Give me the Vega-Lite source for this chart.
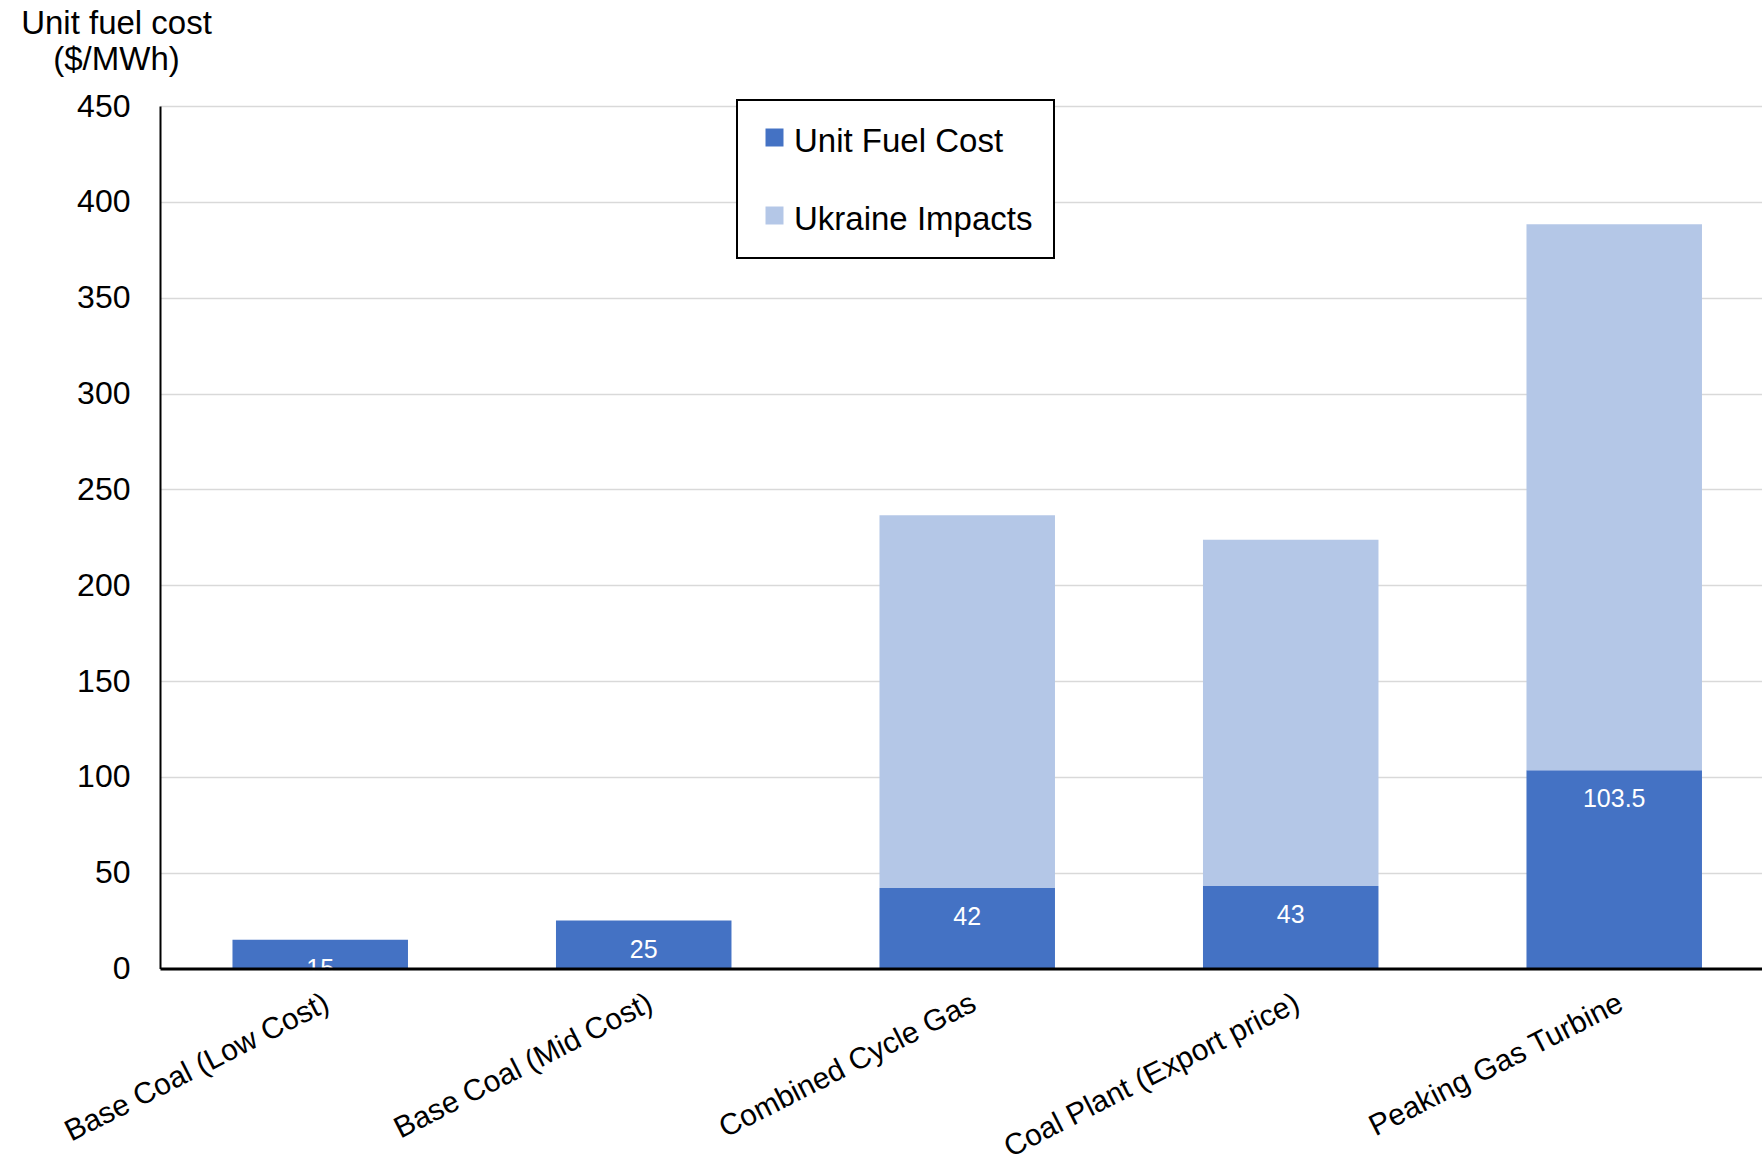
{
  "$schema": "https://vega.github.io/schema/vega-lite/v6.json",
  "width": 1602,
  "height": 862.5,
  "autosize": {"type": "none"},
  "padding": {"left": 160, "top": 106, "right": 0, "bottom": 194.5},
  "background": "white",
  "config": {"font": "Liberation Sans", "view": {"stroke": null}},
  "data": {
    "values": [
      {"tech": "Base Coal (Low Cost)", "series": "Unit Fuel Cost", "value": 15, "ord": 1},
      {"tech": "Base Coal (Low Cost)", "series": "Ukraine Impacts", "value": 0, "ord": 2},
      {"tech": "Base Coal (Mid Cost)", "series": "Unit Fuel Cost", "value": 25, "ord": 1},
      {"tech": "Base Coal (Mid Cost)", "series": "Ukraine Impacts", "value": 0, "ord": 2},
      {"tech": "Combined Cycle Gas", "series": "Unit Fuel Cost", "value": 42, "ord": 1},
      {"tech": "Combined Cycle Gas", "series": "Ukraine Impacts", "value": 194.5, "ord": 2},
      {"tech": "Coal Plant (Export price)", "series": "Unit Fuel Cost", "value": 43, "ord": 1},
      {"tech": "Coal Plant (Export price)", "series": "Ukraine Impacts", "value": 180.7, "ord": 2},
      {"tech": "Peaking Gas Turbine", "series": "Unit Fuel Cost", "value": 103.5, "ord": 1},
      {"tech": "Peaking Gas Turbine", "series": "Ukraine Impacts", "value": 284.8, "ord": 2}
    ]
  },
  "layer": [
    {
      "mark": {"type": "bar"},
      "encoding": {
        "x": {
          "field": "tech", "type": "nominal", "sort": null,
          "scale": {"paddingInner": 0.4575, "paddingOuter": 0.2048, "align": 0.547},
          "axis": {
            "title": null, "ticks": false, "grid": false, "zindex": 1,
            "domainColor": "black", "domainWidth": 3,
            "labelAngle": -27, "labelAlign": "right", "labelBaseline": "top",
            "labelPadding": 19, "labelFontSize": 30, "labelColor": "black",
            "labelLimit": 1000, "labelFont": "Liberation Sans"
          }
        },
        "y": {
          "field": "value", "type": "quantitative", "stack": "zero",
          "scale": {"domain": [0, 450], "nice": false},
          "axis": {
            "values": [0, 50, 100, 150, 200, 250, 300, 350, 400, 450],
            "ticks": false, "domainColor": "black", "domainWidth": 2,
            "gridColor": "#d9d9d9", "gridWidth": 1.3,
            "labelFontSize": 32, "labelColor": "black", "labelPadding": 30,
            "labelFont": "Liberation Sans",
            "title": ["Unit fuel cost", "($/MWh)"],
            "titleAngle": 0, "titleAlign": "center", "titleBaseline": "alphabetic",
            "titleX": -44, "titleY": -73, "titleFontSize": 33, "titleFontWeight": "normal",
            "titleColor": "black", "titleLineHeight": 36, "titleFont": "Liberation Sans"
          }
        },
        "color": {
          "field": "series", "type": "nominal",
          "scale": {"domain": ["Unit Fuel Cost", "Ukraine Impacts"], "range": ["#4472C4", "#B4C7E7"]},
          "legend": {
            "title": null, "orient": "none", "legendX": 577, "legendY": -6,
            "direction": "vertical", "fillColor": "white", "strokeColor": "black",
            "padding": 21, "rowPadding": 40, "symbolType": "square", "symbolSize": 324,
            "symbolStrokeWidth": 0, "labelFontSize": 33, "labelColor": "black",
            "labelOffset": 3, "labelLimit": 1000, "labelFont": "Liberation Sans",
            "encode": {
              "legend": {"update": {"strokeWidth": {"value": 2}}},
              "labels": {"update": {"dy": {"value": 4}}}
            }
          }
        },
        "order": {"field": "ord", "type": "quantitative"}
      }
    },
    {
      "transform": [{"filter": "datum.series === 'Unit Fuel Cost'"}],
      "mark": {"type": "text", "color": "white", "fontSize": 25, "baseline": "middle", "dy": 29, "font": "Liberation Sans"},
      "encoding": {
        "x": {"field": "tech", "type": "nominal", "sort": null},
        "y": {"field": "value", "type": "quantitative"},
        "text": {"field": "value", "type": "quantitative"}
      }
    }
  ]
}
